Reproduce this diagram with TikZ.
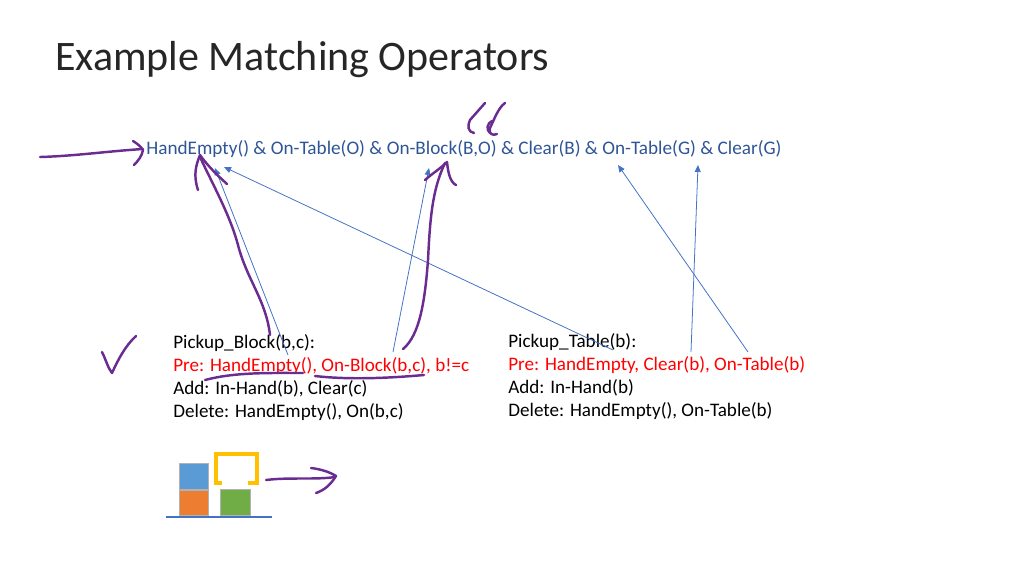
\documentclass[tikz,border=0pt]{standalone}
\usepackage{fontspec}
\setmainfont{Carlito}
\usepackage{tikz}
\usetikzlibrary{positioning,arrows.meta}
\definecolor{goalblue}{HTML}{2F5597}
\definecolor{linkblue}{HTML}{4472C4}
\definecolor{inkpurple}{HTML}{6A2C91}
\definecolor{blockblue}{HTML}{5B9BD5}
\definecolor{blockorange}{HTML}{ED7D31}
\definecolor{blockgreen}{HTML}{70AD47}
\definecolor{gripyellow}{HTML}{FFC000}
\tikzstyle{title} = [anchor=west, inner sep=0pt, font=\fontsize{23.9}{28}\selectfont, text=black!85]
\tikzstyle{goal} = [anchor=west, inner sep=0pt, font=\fontsize{10.93}{13}\selectfont, text=goalblue]
\tikzstyle{oper} = [anchor=north west, inner sep=0pt, align=left, font=\fontsize{10.88}{13.1}\selectfont, text=black]
\tikzstyle{connect} = [linkblue, line width=0.45pt, -{Triangle[length=4pt,width=3.4pt]}]
\tikzstyle{ink} = [inkpurple, line width=1.4pt, line cap=round, line join=round]
\tikzstyle{blockbox} = [rectangle, draw=gray!60, line width=0.3pt, inner sep=0pt, anchor=north west]
\begin{document}
\begin{tikzpicture}[x=0.02cm,y=-0.02cm]
	\useasboundingbox (0,0) rectangle (1024,576);
	\node (head) [title] at (55,60) {Example Matching Operators};
	\node (state) [goal] at (146,149) {HandEmpty() \& On-Table(O) \& On-Block(B,O) \& Clear(B) \& On-Table(G) \& Clear(G)};
	\node (block) [oper] at (173,334) {Pickup\_Block(b,c):\\\textcolor{red}{Pre: HandEmpty(), On-Block(b,c), b!=c}\\Add: In-Hand(b), Clear(c)\\Delete: HandEmpty(), On(b,c)};
	\node (table) [oper] at (508,333) {Pickup\_Table(b):\\\textcolor{red}{Pre: HandEmpty, Clear(b), On-Table(b)}\\Add: In-Hand(b)\\Delete: HandEmpty(), On-Table(b)};

	% ends of the links
	\coordinate (handa) at (215,168);
	\coordinate (handb) at (224,167);
	\coordinate (onblock) at (429,168);
	\coordinate (ontable) at (618,165);
	\coordinate (clearg) at (698,165);
	\coordinate (prea) at (288,355);
	\coordinate (preb) at (393,352);
	\coordinate (prec) at (613,350);
	\coordinate (pred) at (691,352);
	\coordinate (pree) at (748,352);
	\draw [connect] (prea) -- (handa);
	\draw [connect] (preb) -- (onblock);
	\draw [connect] (prec) -- (handb);
	\draw [connect] (pred) -- (clearg);
	\draw [connect] (pree) -- (ontable);

	% blocks
	\node (blue) [blockbox, fill=blockblue, text width=0.58cm, text height=0.52cm] at (179,463) {};
	\node (orange) [blockbox, fill=blockorange, text width=0.58cm, text height=0.5cm] at (179,490) {};
	\node (green) [blockbox, fill=blockgreen, text width=0.6cm, text height=0.52cm] at (220,489) {};
	\coordinate (floora) at (166,517);
	\coordinate (floorb) at (272,517);
	\draw [linkblue, line width=0.6pt] (floora) -- (floorb);
	\draw [gripyellow, line width=2.2pt] (222,483) -- (216,483) -- (216,454) -- (257,454) -- (257,483) -- (248,483);

	% hand drawn
	\draw [ink] (40,157) .. controls (75,156) and (110,151) .. (143,149);
	\draw [ink] (133,141) .. controls (138,144) and (141,147) .. (143,150) .. controls (142,156) and (138,161) .. (134,165);
	\draw [ink] (270,335) .. controls (266,300) and (247,280) .. (238,245) .. controls (230,215) and (213,185) .. (200,157);
	\draw [ink] (198,190) .. controls (193,175) and (196,165) .. (200,155) .. controls (207,165) and (217,175) .. (227,184);
	\draw [ink] (403,349) .. controls (420,335) and (425,300) .. (428,260) .. controls (430,220) and (432,190) .. (445,163);
	\draw [ink] (425,180) .. controls (433,173) and (441,168) .. (447,162) .. controls (448,172) and (450,182) .. (456,185);
	\draw [ink] (485,103) -- (470,120) .. controls (467,126) and (468,132) .. (474,133);
	\draw [ink] (505,103) .. controls (498,108) and (494,120) .. (490,128) .. controls (488,134) and (493,136) .. (497,134);
	\draw [ink] (492,121) .. controls (487,123) and (486,130) .. (490,133);
	\draw [ink] (102,352) .. controls (106,360) and (108,368) .. (112,373) .. controls (118,360) and (125,346) .. (136,336);
	\draw [ink] (205,380) .. controls (235,372) and (270,373) .. (303,373);
	\draw [ink] (315,376) .. controls (350,380) and (390,378) .. (424,375);
	\draw [ink] (266,480) .. controls (290,477) and (315,480) .. (335,477);
	\draw [ink] (311,468) .. controls (320,469) and (330,472) .. (336,476) .. controls (331,484) and (325,490) .. (316,493);
\end{tikzpicture}
\end{document}
